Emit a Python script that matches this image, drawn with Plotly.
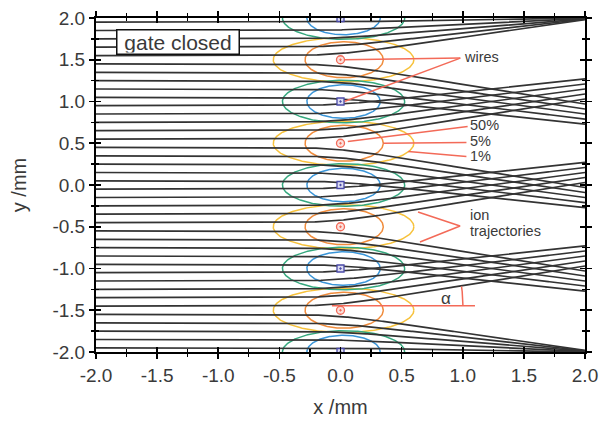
import numpy as np
import plotly.graph_objects as go

# ---------------- data ----------------
# ion trajectories: start height (x=-2) and end height (x=2), in mm
y_start = [1.95, 1.85, 1.75, 1.65, 1.55, 1.45, 1.35, 1.25, 1.15, 1.05,
           0.95, 0.85, 0.75, 0.65, 0.55, 0.45, 0.35, 0.25, 0.15, 0.05,
           -0.05, -0.15, -0.25, -0.35, -0.45, -0.55, -0.65, -0.75, -0.85, -0.95,
           -1.05, -1.15, -1.25, -1.35, -1.45, -1.55, -1.65, -1.75, -1.85, -1.95]
y_end = [2.0, 1.995, 1.99, 1.985, 1.98, 0.97, 0.91, 0.85, 0.79, 0.73,
         1.27, 1.21, 1.15, 1.09, 1.03, -0.03, -0.09, -0.15, -0.21, -0.27,
         0.27, 0.21, 0.15, 0.09, 0.03, -1.03, -1.09, -1.15, -1.21, -1.27,
         -0.73, -0.79, -0.85, -0.91, -0.97, -1.98, -1.985, -1.99, -1.995, -2.0]

# wires
red_wire_x = [0.0, 0.0, 0.0, 0.0]
red_wire_y = [1.5, 0.5, -0.5, -1.5]
blue_wire_x = [0.0, 0.0, 0.0, 0.0, 0.0]
blue_wire_y = [2.0, 1.0, 0.0, -1.0, -2.0]

# contour ellipses (centre x, semi-axes a, b) in mm
inner_red = dict(cx=0.03, a=0.32, b=0.215)    # orange, 5 %
outer_red = dict(cx=0.025, a=0.575, b=0.265)  # yellow, 1 %
inner_blue = dict(cx=0.025, a=0.30, b=0.20)   # blue
outer_blue = dict(cx=0.025, a=0.50, b=0.255)  # green

tick_vals = [-2.0, -1.5, -1.0, -0.5, 0.0, 0.5, 1.0, 1.5, 2.0]
tick_text = ["-2.0", "-1.5", "-1.0", "-0.5", "0.0", "0.5", "1.0", "1.5", "2.0"]
minor_vals = [-1.75, -1.25, -0.75, -0.25, 0.25, 0.75, 1.25, 1.75]

# ---------------- styling ----------------
FONT = "Liberation Sans, Arial, sans-serif"
RED = "#f36a58"
ORANGE = "#f08c3c"
YELLOW = "#f7c23c"
BLUE = "#3a95d8"
GREEN = "#35a87e"
LINE = "#333333"

# pixel scale of the plot area (for aspect-correct arc)
PX_X = 489 / 4.0
PX_Y = 334 / 4.0

fig = go.Figure()

t = np.linspace(0, 2 * np.pi, 241)


def add_ellipses(ys, spec, color):
    xs_all, ys_all = [], []
    for yc in ys:
        xs_all += list(spec["cx"] + spec["a"] * np.cos(t)) + [None]
        ys_all += list(yc + spec["b"] * np.sin(t)) + [None]
    fig.add_trace(go.Scatter(x=xs_all, y=ys_all, mode="lines",
                             line=dict(color=color, width=1.5),
                             hoverinfo="skip", showlegend=False))


add_ellipses(red_wire_y, outer_red, YELLOW)
add_ellipses(red_wire_y, inner_red, ORANGE)
add_ellipses(blue_wire_y, outer_blue, GREEN)
add_ellipses(blue_wire_y, inner_blue, BLUE)

# trajectories: horizontal, bending smoothly near the gate plane
xx = np.linspace(-2, 2, 401)
w, xc = 0.14, -0.04
g = w * np.log1p(np.exp((xx - xc) / w))
g_end = w * np.log1p(np.exp((2 - xc) / w))
tx, ty = [], []
for y0, y1 in zip(y_start, y_end):
    s = (y1 - y0) / g_end
    tx += list(xx) + [None]
    ty += list(y0 + s * g) + [None]
fig.add_trace(go.Scatter(x=tx, y=ty, mode="lines",
                         line=dict(color=LINE, width=1.7),
                         hoverinfo="skip", showlegend=False))

# annotation leader lines (red)
leaders = [
    ([0.03, 0.98], [1.5, 1.52]),      # wires
    ([0.03, 0.98], [1.0, 1.52]),
    ([0.06, 1.04], [0.52, 0.70]),     # 50%
    ([0.35, 1.03], [0.50, 0.51]),     # 5%
    ([0.555, 1.03], [0.40, 0.34]),    # 1%
    ([0.634, 0.978, 0.65], [-0.323, -0.491, -0.683]),  # ion trajectories
    ([-0.07, 1.10], [-1.446, -1.446]),  # alpha baseline
]
lx, ly = [], []
for xs, ys in leaders:
    lx += xs + [None]
    ly += ys + [None]
# alpha arc (aspect-correct in pixels)
ang = np.radians(np.linspace(0, 8.5, 30))
r_px = 131
lx += list(-0.07 + r_px * np.cos(ang) / PX_X) + [None]
ly += list(-1.446 + r_px * np.sin(ang) / PX_Y) + [None]
fig.add_trace(go.Scatter(x=lx, y=ly, mode="lines",
                         line=dict(color=RED, width=1.5),
                         hoverinfo="skip", showlegend=False))

# wires
fig.add_trace(go.Scatter(x=red_wire_x, y=red_wire_y, mode="markers",
                         marker=dict(symbol="circle-dot", size=8, color="#fbe0dc",
                                     line=dict(color=RED, width=1.3)),
                         hoverinfo="skip", showlegend=False))
fig.add_trace(go.Scatter(x=blue_wire_x, y=blue_wire_y, mode="markers",
                         marker=dict(symbol="square-dot", size=7, color="#dcdcf0",
                                     line=dict(color="#4a4aa8", width=1.3)),
                         hoverinfo="skip", showlegend=False))

# dummy trace for overlay axes (inside ticks)
fig.add_trace(go.Scatter(x=[-2, 2], y=[-2, 2], mode="markers", xaxis="x2", yaxis="y2",
                         marker=dict(opacity=0), hoverinfo="skip", showlegend=False))

TXT = "#3a3a3a"
ann = [
    dict(x=0.995, y=1.53, text="wires"),
    dict(x=1.04, y=0.715, text="50%"),
    dict(x=1.04, y=0.53, text="5%"),
    dict(x=1.04, y=0.345, text="1%"),
    dict(x=1.04, y=-0.36, text="ion"),
    dict(x=1.04, y=-0.555, text="trajectories"),
]
annotations = []
for a in ann:
    annotations.append(dict(x=a["x"], y=a["y"], xref="x", yref="y", text=a["text"],
                            showarrow=False, xanchor="left", yanchor="middle",
                            font=dict(family=FONT, size=14.5, color=TXT)))
annotations.append(dict(x=0.86, y=-1.36, xref="x", yref="y", text="α", showarrow=False,
                        xanchor="center", yanchor="middle",
                        font=dict(family=FONT, size=17, color=TXT)))
annotations.append(dict(x=-1.329, y=1.707, xref="x", yref="y", text="gate closed",
                        showarrow=False, xanchor="center", yanchor="middle",
                        width=119, height=21, align="center", valign="middle",
                        bordercolor="#111111", borderwidth=1.5, borderpad=1,
                        bgcolor="white",
                        font=dict(family=FONT, size=21, color=TXT)))

common = dict(range=[-2, 2], tickvals=tick_vals, ticktext=tick_text,
              showgrid=False, zeroline=False, ticklabeloverflow="allow")

fig.update_layout(
    width=603, height=421,
    margin=dict(l=96, r=18, t=18, b=69, autoexpand=False),
    paper_bgcolor="white", plot_bgcolor="white",
    font=dict(family=FONT, size=19, color=TXT),
    annotations=annotations,
    xaxis=dict(**common, showline=True, linecolor="black", linewidth=2,
               mirror="ticks", ticks="outside", ticklen=5, tickwidth=1.6,
               tickcolor="black", automargin=False,
               minor=dict(tickvals=minor_vals, ticks="outside", ticklen=3,
                          tickwidth=1.3, tickcolor="black"),
               title=dict(text="x /mm", font=dict(size=20), standoff=15),
               tickfont=dict(size=19, color=TXT)),
    yaxis=dict(**common, showline=True, linecolor="black", linewidth=2,
               mirror="ticks", ticks="outside", ticklen=5, tickwidth=1.6,
               tickcolor="black", automargin=False,
               minor=dict(tickvals=minor_vals, ticks="outside", ticklen=3,
                          tickwidth=1.3, tickcolor="black"),
               title=dict(text="y /mm", font=dict(size=20), standoff=20),
               tickfont=dict(size=19, color=TXT)),
    xaxis2=dict(**common, overlaying="x", anchor="y2", side="bottom",
                showline=False, showticklabels=False, mirror="ticks",
                ticks="inside", ticklen=5, tickwidth=1.6, tickcolor="black",
                automargin=False,
                minor=dict(tickvals=minor_vals, ticks="inside", ticklen=3,
                           tickwidth=1.3, tickcolor="black")),
    yaxis2=dict(**common, overlaying="y", anchor="x2", side="left",
                showline=False, showticklabels=False, mirror="ticks",
                ticks="inside", ticklen=5, tickwidth=1.6, tickcolor="black",
                automargin=False,
                minor=dict(tickvals=minor_vals, ticks="inside", ticklen=3,
                           tickwidth=1.3, tickcolor="black")),
)

# remove the default 8px page margin so the figure fills the 603x421 window
fig.write_html("out.html",
               config={"displayModeBar": False, "staticPlot": True},
               post_script="document.body.style.margin='0px';"
                           "document.body.style.overflow='hidden';")
